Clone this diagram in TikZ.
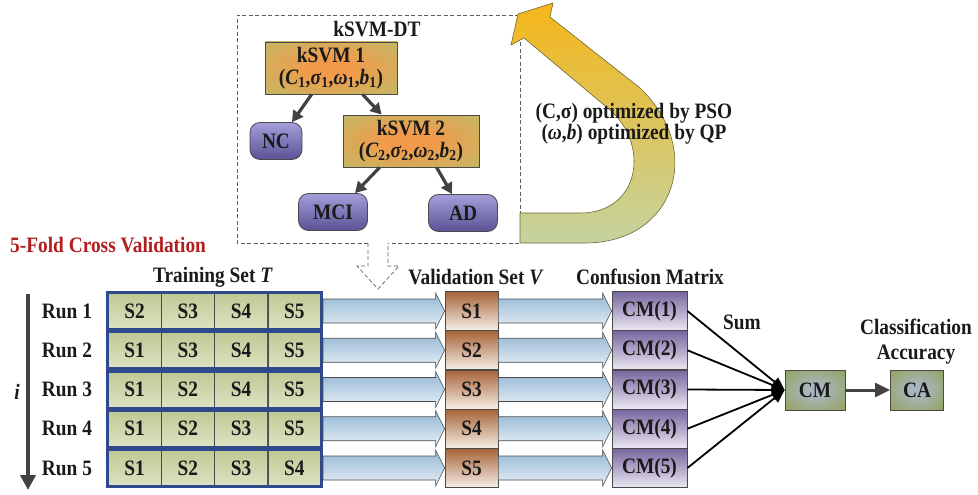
\documentclass[tikz,border=0pt]{standalone}
\usepackage{fontspec}
\setmainfont{Liberation Serif}[FakeStretch=0.88]
\usetikzlibrary{arrows.meta,calc}
\definecolor{txt}{HTML}{1A1A1A}
\definecolor{darkarr}{HTML}{424242}
\definecolor{dashgray}{HTML}{606060}
\definecolor{edgegray}{HTML}{4A4A4A}
\definecolor{trainblue}{HTML}{2E4A8C}
\definecolor{redtitle}{HTML}{B01E1E}
\definecolor{svmOuter}{HTML}{B8BF6C}
\definecolor{svmInner}{HTML}{F29A4A}
\definecolor{cmOuter}{HTML}{8C9F45}
\definecolor{cmInner}{HTML}{A9B4BC}
\pgfdeclareradialshading{glowsvm}{\pgfpoint{0bp}{0bp}}{color(0bp)=(svmInner); color(8bp)=(svmInner); color(42bp)=(svmOuter); color(50bp)=(svmOuter)}
\pgfdeclareradialshading{glowcm}{\pgfpoint{0bp}{0bp}}{color(0bp)=(cmInner); color(8bp)=(cmInner); color(42bp)=(cmOuter); color(50bp)=(cmOuter)}
\tikzset{
  lbl/.style={text=txt, inner sep=0pt},
  svmbox/.style={draw=edgegray, line width=0.8pt, shading=glowsvm, align=center, text=txt, inner sep=0pt, minimum height=52pt, font=\bfseries\fontsize{22}{22}\selectfont},
  classbox/.style={draw=edgegray, line width=0.8pt, rounded corners=10pt, shading=axis, top color={rgb,255:red,164;green,158;blue,218}, bottom color={rgb,255:red,90;green,82;blue,150}, text=txt, inner sep=0pt, minimum height=37pt},
  cell/.style={draw=edgegray, line width=0.5pt, minimum width=53.25pt, minimum height=36pt, inner sep=0pt, shading=axis, top color={rgb,255:red,192;green,200;blue,148}, middle color={rgb,255:red,236;green,238;blue,220}, bottom color={rgb,255:red,222;green,226;blue,194}, text=txt},
  rowbox/.style={draw=trainblue, line width=3pt, minimum width=214pt, minimum height=37pt, inner sep=0pt},
  valbox/.style={draw=edgegray, line width=0.8pt, minimum width=53pt, minimum height=39pt, inner sep=0pt, shading=axis, top color={rgb,255:red,166;green,100;blue,56}, middle color={rgb,255:red,214;green,176;blue,146}, bottom color={rgb,255:red,246;green,238;blue,230}, text=txt},
  cmkbox/.style={draw=edgegray, line width=0.8pt, minimum width=75pt, minimum height=39pt, inner sep=0pt, shading=axis, top color={rgb,255:red,118;green,102;blue,160}, middle color={rgb,255:red,186;green,176;blue,210}, bottom color={rgb,255:red,236;green,232;blue,242}, text=txt},
  resbox/.style={draw=edgegray, line width=0.8pt, minimum height=40pt, inner sep=0pt, shading=glowcm, text=txt},
  treearr/.style={draw=darkarr, line width=3.2pt, -{Triangle[length=11pt,width=12pt]}},
  blockarr/.style={draw=edgegray, line width=0.6pt, shading=axis, top color={rgb,255:red,146;green,182;blue,212}, bottom color={rgb,255:red,232;green,240;blue,246}},
  sumline/.style={draw=black, line width=1.8pt, -{Triangle[length=13pt,width=11pt]}},
}
\newcommand\blockarrow[2]{%
  \path[blockarr] ($(#1.east)+(0,-12)$) -- ($(#2.west)+(-9,-12)$) -- ($(#2.west)+(-9,-18)$) -- (#2.west)
    -- ($(#2.west)+(-9,18)$) -- ($(#2.west)+(-9,12)$) -- ($(#1.east)+(0,12)$) -- cycle;}
\begin{document}
\begin{tikzpicture}[x=1pt,y=-1pt,font=\bfseries\fontsize{22}{22}\selectfont]
\useasboundingbox (0,0) rectangle (978,495);

% dashed kSVM-DT frame with hollow dashed arrow
\draw[dashgray, line width=0.7pt, dash pattern=on 4pt off 2.5pt]
  (368,243) -- (237,243) -- (237,15) -- (520,15) -- (520,243) -- (388,243);
\draw[dashgray, line width=0.7pt, dash pattern=on 4pt off 2.5pt]
  (368,243) -- (368,266) -- (357,266) -- (378,289) -- (399,266) -- (388,266) -- (388,243);

% big feedback arrow
\path[draw={rgb,255:red,110;green,104;blue,50}, line width=0.6pt, shading=axis,
  top color={rgb,255:red,246;green,182;blue,25}, middle color={rgb,255:red,222;green,198;blue,92},
  bottom color={rgb,255:red,196;green,211;blue,160}]
  (520,243) -- (585,243) .. controls (675,243) and (705,150) .. (640,88) -- (550,17) -- (553,3)
  -- (518,14) -- (511,45) -- (524,38) -- (610,110) .. controls (650,145) and (640,213) .. (580,213)
  -- (520,213) -- cycle;

\node[lbl] (dt) at (377,29) {kSVM-DT};
\node[svmbox, minimum width=132pt] (k1) at (331,68)
  {kSVM 1\\(\textit{C}\textsubscript{1},\textit{σ}\textsubscript{1},\textit{ω}\textsubscript{1},\textit{b}\textsubscript{1})};
\node[svmbox, minimum width=136pt] (k2) at (411,141)
  {kSVM 2\\(\textit{C}\textsubscript{2},\textit{σ}\textsubscript{2},\textit{ω}\textsubscript{2},\textit{b}\textsubscript{2})};
\node[classbox, minimum width=52pt] (nc) at (276,141) {NC};
\node[classbox, minimum width=69pt] (mci) at (333,212) {MCI};
\node[classbox, minimum width=69pt] (ad) at (463,213) {AD};

\draw[treearr] ($(k1.south west)+(47,0)$) -- ($(nc.north)+(16,0)$);
\draw[treearr] ($(k1.south west)+(98,0)$) -- ($(k2.north west)+(39,0)$);
\draw[treearr] ($(k2.south west)+(37,0)$) -- ($(mci.north)+(22,0)$);
\draw[treearr] ($(k2.south west)+(94,0)$) -- ($(ad.north)+(-11,0)$);

\node[lbl, align=center, font=\bfseries\fontsize{22}{19}\selectfont] (opt) at (634,124)
  {(C,σ) optimized by PSO\\(\textit{ω},\textit{b}) optimized by QP};

% cross validation
\node[lbl, text=redtitle, anchor=west] (cv) at (10,245) {5-Fold Cross Validation};
\node[lbl] (tst) at (213,277) {Training Set \textit{T}};
\node[lbl] (vst) at (476,277) {Validation Set \textit{V}};
\node[lbl] (cmt) at (650,277) {Confusion Matrix};

\coordinate (itop) at (28,294);
\coordinate (ibot) at (28,490);
\draw[draw=darkarr, line width=4pt, -{Triangle[length=15pt,width=15pt]}] (itop) -- (ibot);
\node[lbl, font=\bfseries\itshape\fontsize{22}{22}\selectfont] (ivar) at (17,392) {i};

\foreach \k/\y/\a/\b/\c/\d in {1/311/S2/S3/S4/S5, 2/350.25/S1/S3/S4/S5, 3/389.5/S1/S2/S4/S5, 4/428.75/S1/S2/S3/S5, 5/468/S1/S2/S3/S4}{
  \node[lbl] (run\k) at (67,\y) {Run \k};
  \node[cell] (c\k a) at (134.6,\y) {\a};
  \node[cell] (c\k b) at (187.9,\y) {\b};
  \node[cell] (c\k c) at (241.1,\y) {\c};
  \node[cell] (c\k d) at (294.4,\y) {\d};
  \node[rowbox] (tr\k) at (214.5,\y) {};
}
\foreach \k/\y in {1/311, 2/350.25, 3/389.5, 4/428.75, 5/468}{
  \node[valbox] (v\k) at (471.5,\y) {S\k};
  \node[cmkbox] (cm\k) at (649.5,\y) {CM(\k)};
}
\foreach \k in {1,...,5}{
  \blockarrow{tr\k}{v\k}
  \blockarrow{v\k}{cm\k}
}

\node[lbl] (sum) at (742,322) {Sum};
\node[lbl, align=center, font=\bfseries\fontsize{22}{25}\selectfont] (cat) at (916,342) {Classification\\Accuracy};
\node[resbox, minimum width=60pt] (cm) at (815,390) {CM};
\node[resbox, minimum width=53pt] (ca) at (917,390) {CA};

\foreach \k in {1,...,5}{
  \draw[sumline] (cm\k.east) -- (cm.west);
}
\draw[draw=darkarr, line width=3pt, -{Triangle[length=15pt,width=14pt]}] (cm.east) -- (ca.west);
\end{tikzpicture}
\end{document}
